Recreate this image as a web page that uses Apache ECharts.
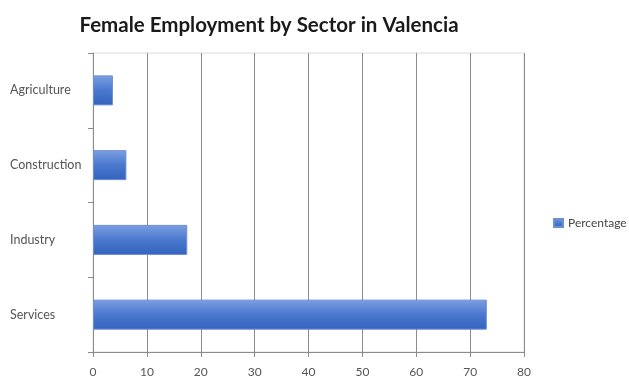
<!DOCTYPE html>
<html><head><meta charset="utf-8">
<script src="https://cdn.jsdelivr.net/npm/echarts@6/dist/echarts.min.js"></script>
<style>html,body{margin:0;padding:0;background:#fff}#c{width:629px;height:378px}</style>
</head><body><div id="c"></div>
<script>
var categories = ['Agriculture', 'Construction', 'Industry', 'Services'];
var percentage = [3.7, 6.2, 17.5, 73.1];
var xTicks = [0, 10, 20, 30, 40, 50, 60, 70, 80];

var chart = echarts.init(document.getElementById('c'));
chart.setOption({
  animation: false,
  title: {
    text: 'Female Employment by Sector in Valencia',
    left: 264, top: 10, textAlign: 'center',
    textStyle: {fontFamily: 'Lato', fontWeight: 'bold', fontSize: 20.5, color: '#1a1a1a'}
  },
  legend: {
    data: ['Percentage'], left: 548, top: 212, orient: 'vertical',
    itemWidth: 9, itemHeight: 8, itemGap: 5,
    textStyle: {fontFamily: 'Lato', fontSize: 12, color: '#444'},
    icon: 'rect'
  },
  grid: {left: 93, width: 431, top: 53, height: 305, containLabel: false,
    show: true, borderColor: '#dcdcdc', borderWidth: 1},
  xAxis: {
    type: 'value', min: xTicks[0], max: xTicks[xTicks.length - 1], interval: 10,
    axisLine: {show: true, lineStyle: {color: '#8c8c8c'}},
    axisTick: {show: true, length: 5, lineStyle: {color: '#8c8c8c'}},
    splitLine: {show: true, lineStyle: {color: '#8c8c8c'}},
    axisLabel: {fontFamily: 'Lato', fontSize: 12, color: '#555', margin: 14}
  },
  yAxis: {
    type: 'category', data: categories, inverse: true,
    axisLine: {show: true, lineStyle: {color: '#8c8c8c'}},
    axisTick: {show: true, length: 5, lineStyle: {color: '#8c8c8c'}},
    axisLabel: {fontFamily: 'Lato', fontSize: 12.5, color: '#555', align: 'left', margin: 83}
  },
  series: [{
    name: 'Percentage', type: 'bar', data: percentage, barWidth: 30,
    itemStyle: {
      color: new echarts.graphic.LinearGradient(0, 0, 0, 1, [
        {offset: 0, color: '#7d9fe0'},
        {offset: 0.5, color: '#4a78cf'},
        {offset: 1, color: '#3363be'}
      ]),
      borderColor: '#6d8fd6', borderWidth: 1
    }
  }]
});
</script></body></html>
